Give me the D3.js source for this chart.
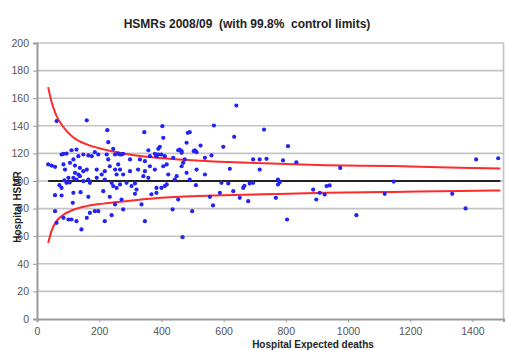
<!DOCTYPE html>
<html>
<head>
<meta charset="utf-8">
<script src="https://cdn.jsdelivr.net/npm/d3@7"></script>
<style>
  body { margin: 0; background: #fff; }
  svg { font-family: Arial, "Liberation Sans", sans-serif; }
</style>
</head>
<body>
<figure id="chart" style="margin:0"></figure>
<script>
// hospital expected deaths / HSMR
const expected = [63,160,226,229,345,403,406,485,491,481,569,641,634,730,599,526,504,459,465,395,390,358,245,267,277,
  79,85,95,111,127,117,133,149,165,176,186,197,224,229,251,261,272,299,331,347,363,379,384,390,400,411,438,454,465,475,508,513,540,561,695,716,738,
  36,47,58,85,90,106,122,138,149,122,133,160,192,208,218,234,251,261,267,256,277,299,325,347,363,379,406,417,422,449,465,470,481,513,540,620,716,
  79,95,101,117,127,138,149,165,170,192,218,240,245,256,267,288,304,315,320,342,358,384,400,411,417,443,491,511,593,615,663,684,695,667,88,105,72,
  58,79,117,115,140,165,213,234,251,272,315,336,368,384,454,556,566,588,631,652,679,
  58,63,85,101,111,127,143,160,170,186,197,218,240,277,347,436,499,468,
  807,791,834,975,775,781,775,768,804,888,898,909,925,931,941,1027,1118,1147,1335,1378,1412,1483];
const hsmr = [143.4,144,136.8,128.1,135.4,139.7,131.3,134.9,135.4,127.7,140.2,154.7,132,137.3,124.8,125.7,121.6,122.8,121.6,124.8,123.3,122.3,123.3,119.2,119.7,
  119.2,119.7,119.9,122.3,122.8,115.6,118,119.2,118.5,118,120.9,119.2,119.2,115.6,119.2,119.9,119.2,115.6,115.6,114.4,118,119.7,118,119.2,119.2,118,116.8,122.3,120.4,115.6,122.3,120.9,116.8,118.5,115.6,115.6,116.1,
  112,111.2,110.3,112,108.3,113.2,111.2,109.5,107.1,105.9,104.7,108.3,108.3,104.7,107.1,110.7,108.3,112,108.3,104.7,104.7,107.1,108.3,107.1,110.7,108.3,110.7,112,104.7,103.5,110.7,113.2,105.9,108.3,104.7,108.8,108.3,
  95,98.7,102.3,102.3,101.1,103.5,99.9,101.1,98.7,102.3,101.1,98.7,96.3,95,97.5,98.7,96.3,98.2,93.8,103.5,102.3,95,95,96.3,97.5,101.1,101.1,97,98.7,98.2,95,98.2,98.7,96.5,100.5,99,97,
  89.7,89.5,91.4,84.2,91.9,88.5,92.6,88.5,83,86.6,90.7,83,90.4,91.4,86.6,88.5,82.3,91.4,92.6,87.8,85.4,
  78.1,69.7,73.3,72.1,72.1,70.9,64.9,73.3,76.9,78.1,78.1,70.9,75.2,79.4,70.9,79.4,78.1,59.3,
  125.2,114.9,113.6,109.5,101.1,99.2,97.5,87.8,72.1,93.8,86.6,91.4,90.2,96.3,96.8,75.2,90.7,99.6,90.7,80.1,115.6,116.5];

// 99.8% control limits
const limitE = [36,47,63,85,117,160,213,277,352,459,566,727,930,1145,1358,1490];
const upperLimit = [168,157,147,139,131.5,126.5,123,120,117.5,115.5,114.2,112.8,111.5,110.8,109.6,109];
const lowerLimit = [55,64,71,75.5,79.2,81.8,83.6,85.2,87,88.6,89.5,90.4,91.4,92.1,92.8,93.2];
const meanLine = [[36,100],[1490,100]];

const xTicks = [0,200,400,600,800,1000,1200,1400];
const yTicks = [0,20,40,60,80,100,120,140,160,180,200];

const width = 505, height = 350;
const plotLeft = 37, plotRight = 503.5, plotTop = 43, plotBottom = 319;

const svg = d3.select("#chart").append("svg")
  .attr("width", width).attr("height", height);

const x = d3.scaleLinear().domain([0, 1500]).range([plotLeft, plotRight]);
const y = d3.scaleLinear().domain([0, 200]).range([plotBottom, plotTop]);

// grid
svg.append("g").selectAll("line")
  .data(yTicks.slice(1))
  .enter().append("line")
  .attr("x1", plotLeft).attr("x2", plotRight)
  .attr("y1", d => y(d)).attr("y2", d => y(d))
  .attr("stroke", "#c4c4c4").attr("stroke-width", 1.6);

svg.append("line")
  .attr("x1", plotRight).attr("x2", plotRight).attr("y1", plotTop).attr("y2", plotBottom)
  .attr("stroke", "#c4c4c4").attr("stroke-width", 1.6);

// axes
const yAxis = svg.append("g")
  .attr("transform", "translate(" + plotLeft + ",0)")
  .call(d3.axisLeft(y).tickValues(yTicks).tickSize(4).tickPadding(4));
const xAxis = svg.append("g")
  .attr("transform", "translate(0," + plotBottom + ")")
  .call(d3.axisBottom(x).tickValues(xTicks).tickFormat(d3.format("d")).tickSize(3).tickPadding(6));

[xAxis, yAxis].forEach(a => {
  a.select(".domain").attr("stroke", "#9a9a9a").attr("stroke-width", 2);
  a.selectAll(".tick line").attr("stroke", "#9a9a9a");
  a.selectAll("text").attr("fill", "#555").style("font-size", "10.5px");
});

// control limits
const line = d3.line().x(d => x(d[0])).y(d => y(d[1])).curve(d3.curveMonotoneX);

svg.append("path")
  .datum(meanLine)
  .attr("d", line)
  .attr("fill", "none").attr("stroke", "#222").attr("stroke-width", 2);

[upperLimit, lowerLimit].forEach(lim => {
  svg.append("path")
    .datum(limitE.map((e, i) => [e, lim[i]]))
    .attr("d", line)
    .attr("fill", "none").attr("stroke", "#ff2a2a").attr("stroke-width", 2);
});

// hospitals
svg.append("g").selectAll("circle")
  .data(expected.map((e, i) => [e, hsmr[i]]))
  .enter().append("circle")
  .attr("cx", d => x(d[0]))
  .attr("cy", d => y(d[1]))
  .attr("r", 2.1)
  .attr("fill", "#2323f5");

// titles
svg.append("text")
  .attr("x", 247).attr("y", 28)
  .attr("text-anchor", "middle")
  .style("font-size", "12px").style("font-weight", "bold")
  .attr("fill", "#222")
  .attr("xml:space", "preserve")
  .text("HSMRs 2008/09  (with 99.8%  control limits)");

svg.append("text")
  .attr("x", 313).attr("y", 348)
  .attr("text-anchor", "middle")
  .style("font-size", "10px").style("font-weight", "bold")
  .attr("fill", "#222")
  .text("Hospital Expected deaths");

svg.append("text")
  .attr("transform", "translate(21,207) rotate(-90)")
  .attr("text-anchor", "middle")
  .style("font-size", "10px").style("font-weight", "bold")
  .attr("fill", "#222")
  .text("Hospital HSMR");
</script>
</body>
</html>
